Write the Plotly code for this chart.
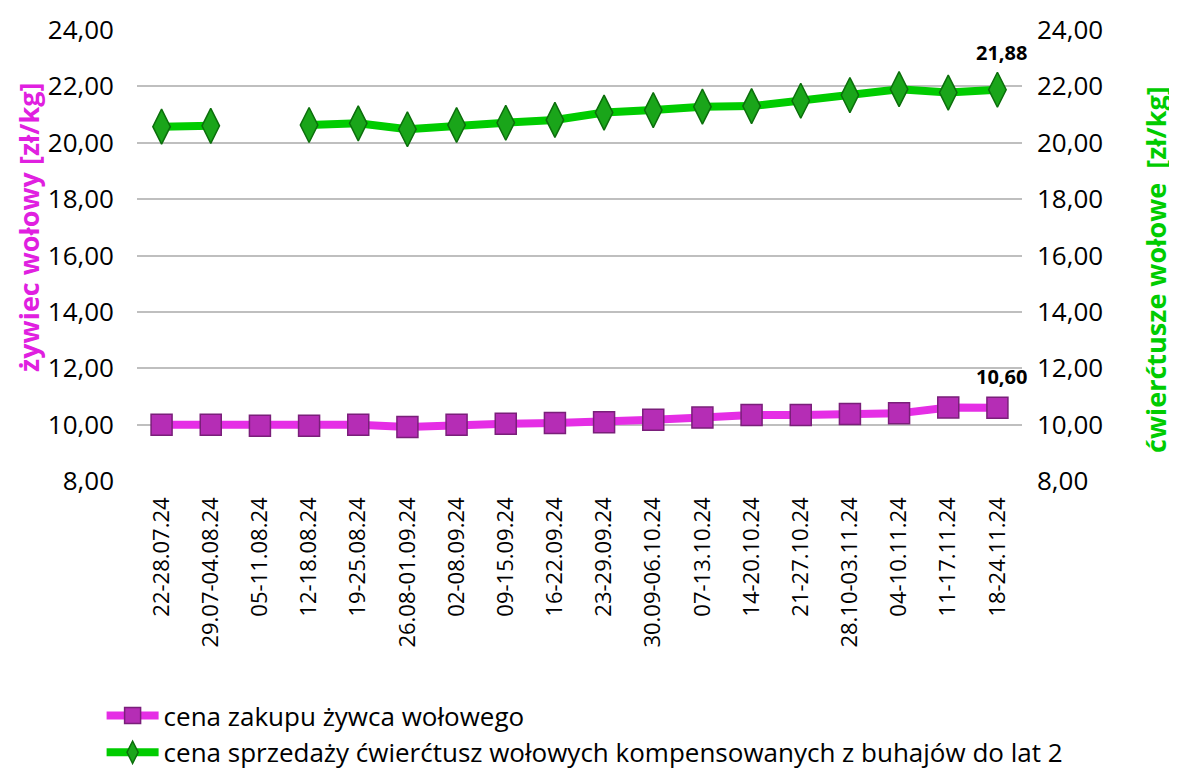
import plotly.graph_objects as go

categories = ["22-28.07.24", "29.07-04.08.24", "05-11.08.24", "12-18.08.24", "19-25.08.24",
              "26.08-01.09.24", "02-08.09.24", "09-15.09.24", "16-22.09.24", "23-29.09.24",
              "30.09-06.10.24", "07-13.10.24", "14-20.10.24", "21-27.10.24", "28.10-03.11.24",
              "04-10.11.24", "11-17.11.24", "18-24.11.24"]

zywiec = [10.00, 10.00, 9.96, 9.96, 10.00, 9.92, 10.00, 10.03, 10.06, 10.08,
          10.17, 10.25, 10.34, 10.34, 10.38, 10.40, 10.61, 10.60]

cwierctusze = [20.57, 20.60, None, 20.63, 20.69, 20.48, 20.63, 20.71, 20.81, 21.07,
               21.16, 21.28, 21.30, 21.49, 21.69, 21.90, 21.78, 21.88]

name1 = "cena zakupu żywca wołowego"
name2 = "cena sprzedaży ćwierćtusz wołowych kompensowanych z buhajów do lat 2"
title_left = "żywiec wołowy [zł/kg]"
title_right = "ćwierćtusze wołowe  [zł/kg]"

def fmt(v):
    return f"{v:.2f}".replace(".", ",")

FONT = "'Open Sans', Lato, sans-serif"

fig = go.Figure()
fig.add_trace(go.Scatter(
    x=categories, y=zywiec, name=name1, mode="lines+markers",
    line=dict(color="#E52EE5", width=8),
    marker=dict(symbol="square", size=21, color="#B52DB5",
                line=dict(color="#7A1F7A", width=1.5)),
    yaxis="y", cliponaxis=False,
))
fig.add_trace(go.Scatter(
    x=categories, y=cwierctusze, name=name2, mode="lines+markers",
    line=dict(color="#00CC00", width=8), connectgaps=False,
    marker=dict(symbol="diamond-tall", size=25, color="#1AA51A",
                line=dict(color="#0B6E0B", width=1.5)),
    yaxis="y2", cliponaxis=False,
))

annotations = [
    dict(x=categories[-1], y=zywiec[-1], xref="x", yref="y", text=fmt(zywiec[-1]),
         showarrow=False, yshift=31, xshift=4,
         font=dict(family=FONT, size=20, color="black", weight="bold")),
    dict(x=categories[-1], y=cwierctusze[-1], xref="x", yref="y2", text=fmt(cwierctusze[-1]),
         showarrow=False, yshift=37, xshift=4,
         font=dict(family=FONT, size=20, color="black", weight="bold")),
    dict(x=21, y=220, xref="paper", yref="paper", text=title_left, textangle=-90,
         showarrow=False,
         font=dict(family=FONT, size=27, color="#E020E0", weight="bold")),
    dict(x=1147, y=262, xref="paper", yref="paper", text=title_right, textangle=-90,
         showarrow=False,
         font=dict(family=FONT, size=27, color="#00CC00", weight="bold")),
]
# convert pixel-based title positions (figure coords) into paper coords
L, R, T, B, W, H = 129, 163, 22, 300, 1177, 773
pw, ph = W - L - R, H - T - B
for a in annotations[2:]:
    px, py = a["x"], a["y"]
    a["x"] = (px - L) / pw
    a["y"] = (H - B - py) / ph
    a["xanchor"] = "center"
    a["yanchor"] = "middle"

fig.update_layout(
    width=W, height=H,
    margin=dict(l=L, r=R, t=T, b=B, autoexpand=False),
    paper_bgcolor="white", plot_bgcolor="white",
    separators=", ",
    font=dict(family=FONT, size=22, color="black"),
    showlegend=True,
    annotations=annotations,
    legend=dict(orientation="v", x=-0.04, y=-0.468, xanchor="left", yanchor="top",
                font=dict(family=FONT, size=26, color="black"),
                tracegroupgap=9, itemwidth=52),
    xaxis=dict(type="category", tickangle=-90, showgrid=False, showline=False,
               ticks="", tickfont=dict(family=FONT, size=22, color="black"),
               ticklabelstandoff=11, range=[-0.5, 17.5]),
    yaxis=dict(range=[8, 24], dtick=2, tickformat=".2f", showgrid=True,
               gridcolor="#BFBFBF", gridwidth=2, zeroline=False, showline=False,
               tickfont=dict(family=FONT, size=26, color="black"), ticklabelstandoff=22),
    yaxis2=dict(range=[8, 24], dtick=2, tickformat=".2f", overlaying="y", side="right",
                showgrid=False, zeroline=False, showline=False,
                tickfont=dict(family=FONT, size=26, color="black"), ticklabelstandoff=14),
)

fig.write_html("out.html")
